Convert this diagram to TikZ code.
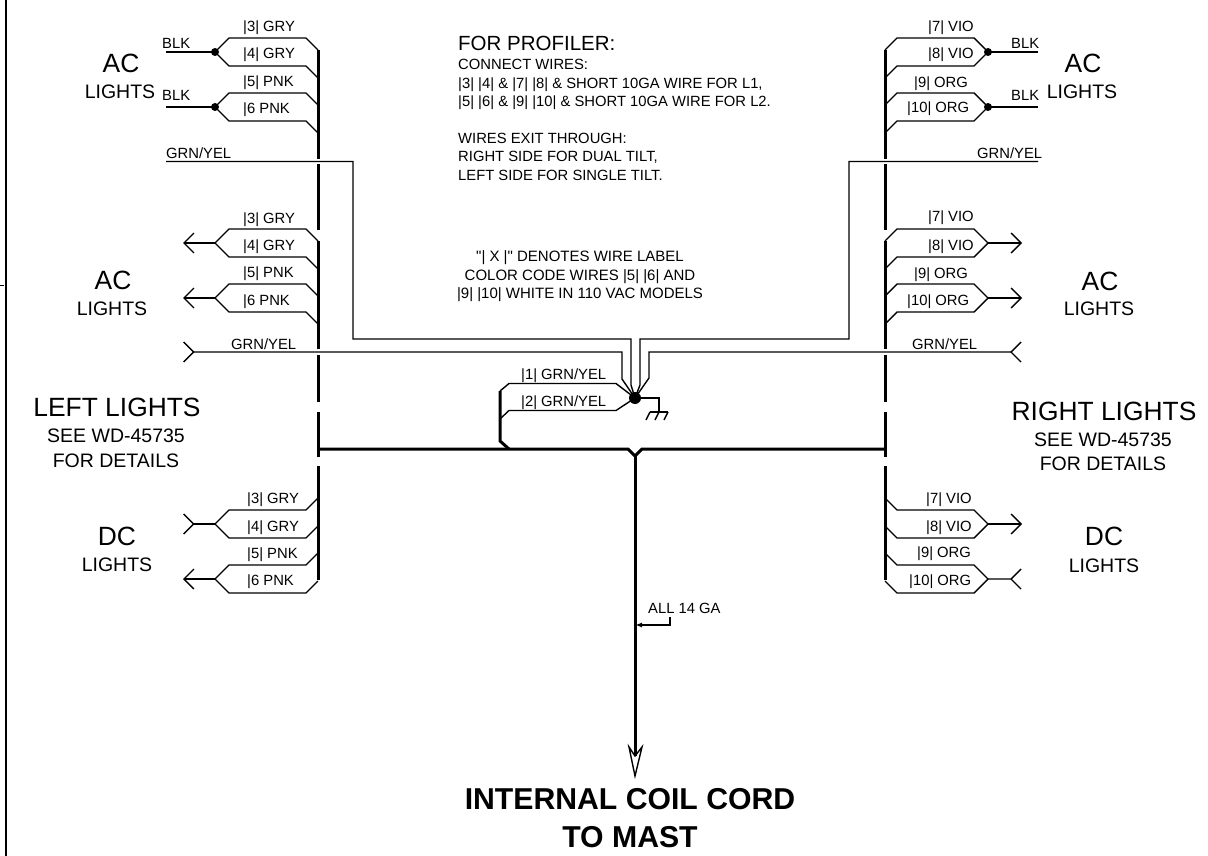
\documentclass[tikz,border=0pt]{standalone}
\usepackage{fontspec}
\setmainfont{Liberation Sans}
\newfontfamily\straightquote{Liberation Sans}
\usetikzlibrary{arrows.meta}

\begin{document}
\begin{tikzpicture}[x=1pt,y=-1pt,
    wire/.style={line width=1.4pt,line join=miter},
    bus/.style={line width=3pt},
    wireout/.style={-{Straight Barb[length=10pt,width=20pt,line width=1.4pt]}},
    wirein/.style={{Straight Barb[length=10pt,width=20pt,reversed,line width=1.4pt]}-},
    wlabel/.style={anchor=base west,inner sep=0pt,font=\fontsize{14.8}{18}\selectfont},
    note/.style={anchor=base,inner sep=0pt,font=\fontsize{15}{18}\selectfont},
    small/.style={anchor=base,inner sep=0pt,font=\fontsize{19.5}{24}\selectfont},
    big/.style={anchor=base,inner sep=0pt,font=\fontsize{26.4}{30}\selectfont},
    huge/.style={anchor=base,inner sep=0pt,font=\fontsize{30.2}{36}\selectfont\bfseries}
    ]
\useasboundingbox (0,0) rectangle (1208,856);

% sheet edge
\draw[line width=1.4pt] (6,0) -- (6,856);
\draw[line width=1pt] (0,285) -- (4,285);

% wire pairs, left and right
\foreach \forkname/\forky in {la/52,lb/107,lc/243,ld/298} {
  \coordinate (\forkname) at (215,\forky);
  \draw[wire] (\forkname) -- ++(14,-14) -- ++(77,0) -- ++(12,12);
  \draw[wire] (\forkname) -- ++(14,14) -- ++(77,0) -- ++(12,12);
}
\foreach \forkname/\forky in {le/524,lf/579} {
  \coordinate (\forkname) at (215,\forky);
  \draw[wire] (\forkname) -- ++(14,-14) -- ++(77,0) -- ++(12,-12);
  \draw[wire] (\forkname) -- ++(14,14) -- ++(77,0) -- ++(12,-12);
}
\foreach \forkname/\forky in {ra/52,rb/107,rc/243,rd/298} {
  \coordinate (\forkname) at (988,\forky);
  \draw[wire] (\forkname) -- ++(-14,-14) -- ++(-77,0) -- ++(-12,12);
  \draw[wire] (\forkname) -- ++(-14,14) -- ++(-77,0) -- ++(-12,12);
}
\foreach \forkname/\forky in {re/524,rf/579} {
  \coordinate (\forkname) at (988,\forky);
  \draw[wire] (\forkname) -- ++(-14,-14) -- ++(-77,0) -- ++(-12,-12);
  \draw[wire] (\forkname) -- ++(-14,14) -- ++(-77,0) -- ++(-12,-12);
}

% harness bus, with its breaks
\foreach \busx in {318,885}
  \foreach \ya/\yb in {50/159.5,164/230,241/349,355/402,412/457,466/580}
    \draw[bus] (\busx,\ya) -- (\busx,\yb);

% wire ends
\coordinate (blkla) at (166,52);
\coordinate (blklb) at (166,107);
\coordinate (blkra) at (1038,52);
\coordinate (blkrb) at (1038,107);
\foreach \forkname/\endname in {la/blkla,lb/blklb,ra/blkra,rb/blkrb} {
  \draw[wire] (\forkname) -- (\endname);
  \fill (\forkname) circle (4);
}
\coordinate (tiplc) at (183,243);
\coordinate (tipld) at (183,298);
\coordinate (tiplf) at (183,579);
\coordinate (tiprc) at (1022,243);
\coordinate (tiprd) at (1022,298);
\coordinate (tipre) at (1022,524);
\foreach \forkname/\endname in {lc/tiplc,ld/tipld,lf/tiplf,rc/tiprc,rd/tiprd,re/tipre}
  \draw[wire,wireout] (\forkname) -- (\endname);
\coordinate (tiple) at (183,524);
\coordinate (tiprf) at (1011,579);
\draw[wire,wirein] (tiple) -- (le);
\draw[wire] (rf) -- (tiprf) ++(10,-10) -- (tiprf) -- ++(10,10);

% ground stud
\fill (635,398) circle (6) coordinate (stud);
\coordinate (gyla) at (166,161.5);
\coordinate (gyra) at (1038,161.5);
\coordinate (gylb) at (183,352);
\coordinate (gyrb) at (1011,352);
\draw[wire] (gyla) -- (353,161.5) -- (353,339) -- (631,339) -- (631,385) -- (stud);
\draw[wire,wirein] (gylb) -- (622,352) -- (622,379) -- (stud);
\draw[wire] (gyra) -- (849,161.5) -- (849,339) -- (640,339) -- (640,385) -- (stud);
\draw[wire] (gyrb) ++(10,-10) -- (gyrb) -- ++(10,10);
\draw[wire] (gyrb) -- (649,352) -- (649,378) -- (stud);
\draw[wire] (stud) -- (659,398) -- (659,412);
\draw[wire] (650,412) -- (668,412);
\foreach \tickx in {650,659,668}
  \draw[wire] (\tickx,412) -- ++(-4,8);

% tie to the main run
\coordinate (tiea) at (500,391);
\coordinate (tieb) at (500,441);
\draw[wire] (stud) -- (616,383.5) -- (509,383.5) -- (tiea);
\draw[wire] (stud) -- (616,410.5) -- (509,410.5) -- (500,419);
\draw[bus] (tiea) -- (tieb) -- (509,449);
\coordinate (vee) at (635,456);
\coordinate (coilend) at (635,756);
\coordinate (coiltip) at (635,776);
\draw[bus] (318,449) -- (628,449) -- (vee) -- (642,449) -- (885,449);
\draw[wire] (629,747) -- (coiltip) -- (642,747) -- (coilend) -- cycle;
\draw[bus] (vee) -- (coilend);
\coordinate (gagept) at (635,625);
\draw[wire,-{Latex[length=7pt,width=5pt]}] (670,617) -- (670,625) -- (gagept);

% wire labels
\foreach \lname/\lx/\ly/\ltext in {
    a3/243/32/{|3| GRY},a4/243/59/{|4| GRY},a5/243/87/{|5| PNK},a6/243/114/{|6 PNK},
    b3/243/223/{|3| GRY},b4/243/250/{|4| GRY},b5/243/277/{|5| PNK},b6/243/305/{|6 PNK},
    c3/247/503/{|3| GRY},c4/247/531/{|4| GRY},c5/247/558/{|5| PNK},c6/247/585/{|6 PNK},
    a7/928/32/{|7| VIO},a8/928/59/{|8| VIO},a9/914/88/{|9| ORG},a10/907/113/{|10| ORG},
    b7/928/222/{|7| VIO},b8/928/250/{|8| VIO},b9/914/278/{|9| ORG},b10/907/305/{|10| ORG},
    c7/926/503/{|7| VIO},c8/926/531/{|8| VIO},c9/917/557/{|9| ORG},c10/909/585/{|10| ORG},
    blka/162/49/BLK,blkb/162/101/BLK,blkc/1011/49/BLK,blkd/1011/101/BLK,
    gya/166/159/GRN\slash YEL,gyb/231/349/GRN\slash YEL,
    gyc/977/159/GRN\slash YEL,gyd/912/349/GRN\slash YEL,
    t1/521/379/{|1| GRN\slash YEL},t2/521/406/{|2| GRN\slash YEL},
    gage/648/613/ALL 14 GA,
    p1/458/70/CONNECT WIRES:,
    p2/458/89/{|3| |4| \& |7| |8| \& SHORT 10GA WIRE FOR L1,},
    p3/458/107/{|5| |6| \& |9| |10| \& SHORT 10GA WIRE FOR L2.},
    p4/458/144/WIRES EXIT THROUGH:,
    p5/458/162/{RIGHT SIDE FOR DUAL TILT,},
    p6/458/181/{LEFT SIDE FOR SINGLE TILT.}}
  \node[wlabel] (\lname) at (\lx,\ly) {\ltext};

\node[wlabel,font=\fontsize{20.5}{24}\selectfont] (profiler) at (458,51) {FOR PROFILER:};
\node[note] (n1) at (580,261) {{\straightquote"}| X |{\straightquote"} DENOTES WIRE LABEL};
\node[note] (n2) at (580,280) {COLOR CODE WIRES |5| |6| AND};
\node[note] (n3) at (580,298) {|9| |10| WHITE IN 110 VAC MODELS};

% group titles
\node[big] (acla) at (121,73) {AC};
\node[small] (lila) at (120,99) {LIGHTS};
\node[big] (aclb) at (113,289) {AC};
\node[small] (lilb) at (112,315) {LIGHTS};
\node[big] (left) at (117,416) {LEFT LIGHTS};
\node[small] (seel) at (116,442) {SEE WD-45735};
\node[small] (forl) at (116,467) {FOR DETAILS};
\node[big] (dcl) at (117,545) {DC};
\node[small] (lilc) at (117,571) {LIGHTS};
\node[big] (acra) at (1083,73) {AC};
\node[small] (lira) at (1082,99) {LIGHTS};
\node[big] (acrb) at (1100,290) {AC};
\node[small] (lirb) at (1099,315) {LIGHTS};
\node[big] (right) at (1104,420) {RIGHT LIGHTS};
\node[small] (seer) at (1103,446) {SEE WD-45735};
\node[small] (forr) at (1103,470) {FOR DETAILS};
\node[big] (dcr) at (1104,545) {DC};
\node[small] (lirc) at (1104,572) {LIGHTS};

\node[huge] (coil) at (630,809) {INTERNAL COIL CORD};
\node[huge] (mast) at (630,847) {TO MAST};
\end{tikzpicture}
\end{document}
